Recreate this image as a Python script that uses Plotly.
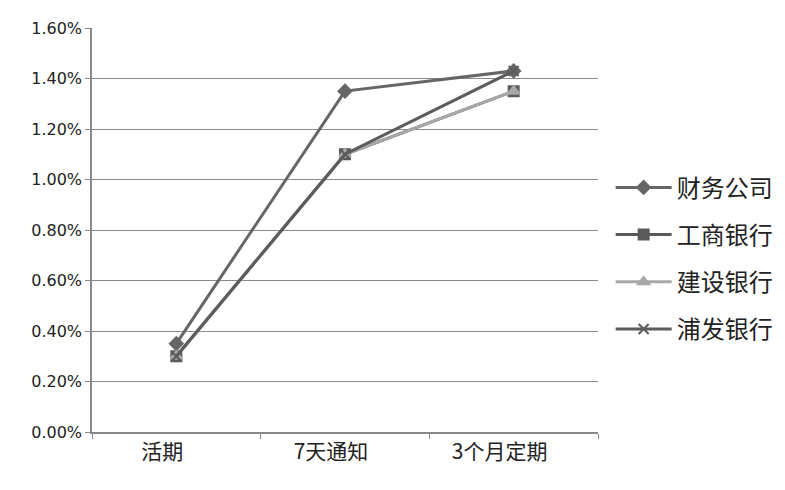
import plotly.graph_objects as go

# deposit rates (%)
categories = ["活期", "7天通知", "3个月定期"]
series_names = ["财务公司", "工商银行", "建设银行", "浦发银行"]
caiwu = [0.35, 1.35, 1.43]
gongshang = [0.30, 1.10, 1.35]
jianshe = [0.30, 1.10, 1.35]
pufa = [0.30, 1.10, 1.43]
y_ticks = [0.0, 0.2, 0.4, 0.6, 0.8, 1.0, 1.2, 1.4, 1.6]

styles = [
    dict(color="#666666", symbol="diamond", size=10),
    dict(color="#5a5a5a", symbol="square", size=10),
    dict(color="#a8a8a8", symbol="triangle-up", size=10),
    dict(color="#5c5c5c", symbol="x-thin-open", size=10),
]

fig = go.Figure()
for i, (name, vals, st) in enumerate(zip(series_names, [caiwu, gongshang, jianshe, pufa], styles)):
    fig.add_trace(go.Scatter(
        x=categories, y=vals, name=name, mode="lines+markers",
        legendgroup=f"g{i}",
        line=dict(color=st["color"], width=3),
        marker=dict(symbol=st["symbol"], size=st["size"], color=st["color"],
                    line=dict(color=st["color"], width=2)),
    ))

# page body adds an 8px offset, so margins are trimmed to suit
fig.update_layout(
    width=785, height=490,
    paper_bgcolor="white", plot_bgcolor="white",
    margin=dict(l=84, r=195, t=11, b=66),
    font=dict(family="Noto Sans CJK SC, DejaVu Sans", color="#222"),
    showlegend=True,
    legend=dict(
        x=1.025, y=0.43, xanchor="left", yanchor="middle",
        font=dict(size=24, family="Noto Sans CJK SC", color="#222"),
        tracegroupgap=13, itemwidth=56,
        bgcolor="rgba(0,0,0,0)",
    ),
    xaxis=dict(
        type="category", showgrid=False, showline=True, linecolor="#888",
        linewidth=1.5, ticks="outside", ticklen=5, tickcolor="#888",
        tickson="boundaries", ticklabelshift=-14,
        tickfont=dict(size=21, family="Noto Sans CJK SC", color="#222"),
        range=[-0.5, 2.5],
    ),
    yaxis=dict(
        range=[0, 1.6], tickvals=y_ticks,
        ticktext=[f"{v:.2f}%" for v in y_ticks],
        showgrid=True, gridcolor="#8a8a8a", gridwidth=1.2,
        showline=True, linecolor="#888", linewidth=1.5,
        ticks="outside", ticklen=5, tickcolor="#888",
        zeroline=False,
        tickfont=dict(size=16, family="DejaVu Sans", color="#222"),
    ),
)

fig.write_html("out.html")
